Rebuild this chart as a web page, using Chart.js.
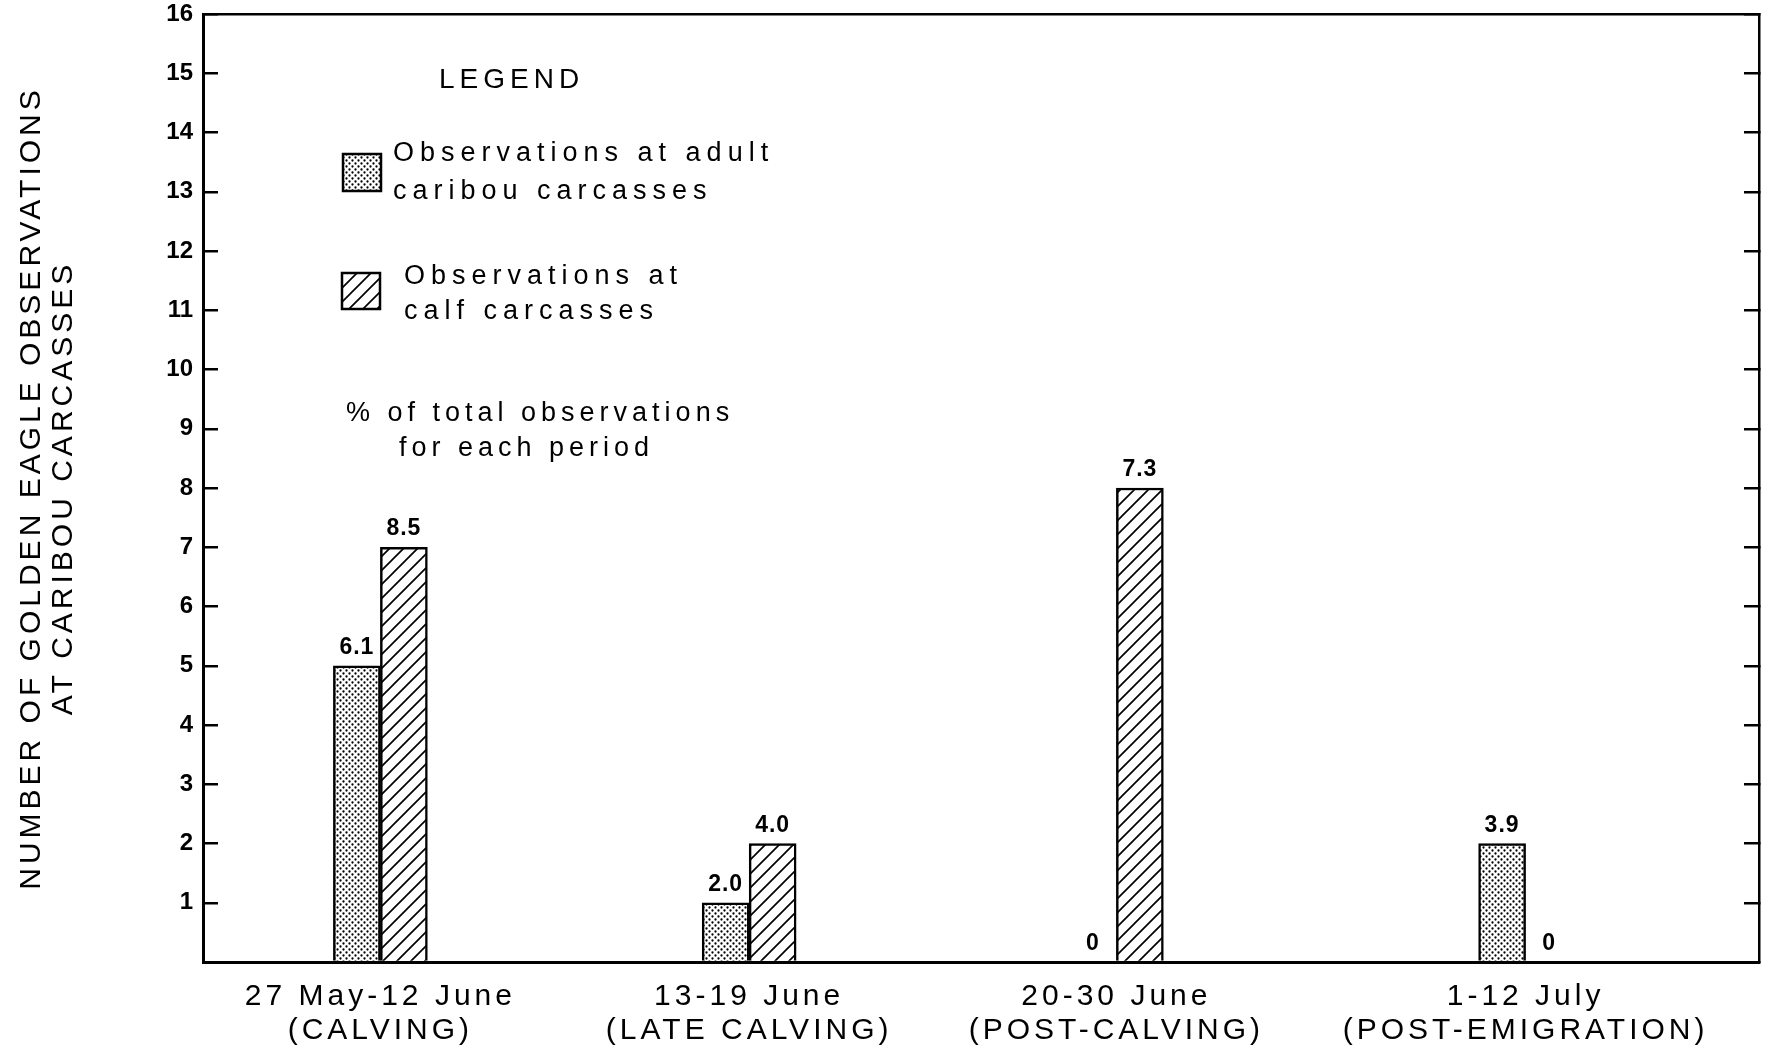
<!DOCTYPE html>
<html>
<head>
<meta charset="utf-8">
<title>Golden eagle observations at caribou carcasses</title>
<script src="https://cdn.jsdelivr.net/npm/chart.js@4.4.1/dist/chart.umd.min.js"></script>
<style>
  html, body { margin: 0; padding: 0; background: #fff; }
  #wrap { width: 1773px; height: 1054px; position: relative; }
</style>
</head>
<body>
<div id="wrap"><canvas id="chart"></canvas></div>
<script>
const periodLabels = [
  ["27 May-12 June", "(CALVING)"],
  ["13-19 June", "(LATE CALVING)"],
  ["20-30 June", "(POST-CALVING)"],
  ["1-12 July", "(POST-EMIGRATION)"],
];
// where each period sits along a 0-100 x axis (periods are not evenly spaced)
const periodX = [11.4, 35.1, 58.7, 85.0];
const adultObs = [5, 1, 0, 2];
const calfObs = [7, 2, 8, 0];
const adultPct = ["6.1", "2.0", "0", "3.9"];
const calfPct = ["8.5", "4.0", "7.3", "0"];
const adultName = ["Observations at adult", "caribou carcasses"];
const calfName = ["Observations at", "calf carcasses"];
const pctNote = ["% of total observations", "for each period"];
const yTitle = ["NUMBER OF GOLDEN EAGLE OBSERVATIONS", "AT CARIBOU CARCASSES"];
const yMax = 16;

const FAMILY = "'Liberation Sans', Arial, Helvetica, sans-serif";
Chart.defaults.font.family = FAMILY;
Chart.defaults.color = "#000";

function dotPattern() {
  const c = document.createElement("canvas");
  c.width = 6;
  c.height = 6;
  const g = c.getContext("2d");
  g.fillStyle = "#fff";
  g.fillRect(0, 0, 6, 6);
  g.fillStyle = "#000";
  [[1.5, 1.5], [4.5, 4.5]].forEach(([x, y]) => {
    g.beginPath();
    g.arc(x, y, 1.15, 0, Math.PI * 2);
    g.fill();
  });
  return g.createPattern(c, "repeat");
}

function hatchPattern() {
  const s = 14;
  const c = document.createElement("canvas");
  c.width = s;
  c.height = s;
  const g = c.getContext("2d");
  g.fillStyle = "#fff";
  g.fillRect(0, 0, s, s);
  g.strokeStyle = "#000";
  g.lineWidth = 1.7;
  g.beginPath();
  g.moveTo(-s / 2, s / 2); g.lineTo(s / 2, -s / 2);
  g.moveTo(0, s); g.lineTo(s, 0);
  g.moveTo(s / 2, s * 1.5); g.lineTo(s * 1.5, s / 2);
  g.stroke();
  return g.createPattern(c, "repeat");
}

const dots = dotPattern();
const hatch = hatchPattern();

// wide tracking like the typewritten original; y tick numbers stay tight
const LS = "4px";
const spacing = {
  id: "spacing",
  beforeLayout(chart) { chart.ctx.letterSpacing = LS; },
  afterLayout(chart) {
    const y = chart.scales.y;
    if (y && !y._plainLabels) {
      const draw = y.drawLabels;
      y.drawLabels = function (area) {
        const prev = this.ctx.letterSpacing;
        this.ctx.letterSpacing = "0px";
        draw.call(this, area);
        this.ctx.letterSpacing = prev;
      };
      y._plainLabels = true;
    }
  },
  beforeDraw(chart) { chart.ctx.letterSpacing = LS; },
};

const barValues = {
  id: "barValues",
  afterDatasetsDraw(chart) {
    const c = chart.ctx;
    c.save();
    c.letterSpacing = "1px";
    c.font = "bold 23px " + FAMILY;
    c.fillStyle = "#000";
    c.textAlign = "center";
    c.textBaseline = "alphabetic";
    [adultPct, calfPct].forEach((pcts, d) => {
      chart.getDatasetMeta(d).data.forEach((bar, i) => {
        c.fillText(pcts[i], bar.x, bar.y - 12);
      });
    });
    c.restore();
  },
};

function swatch(c, x, y, w, h, fill) {
  c.fillStyle = fill;
  c.fillRect(x, y, w, h);
  c.lineWidth = 2.5;
  c.strokeStyle = "#000";
  c.strokeRect(x, y, w, h);
}

const legendBox = {
  id: "legendBox",
  afterDraw(chart) {
    const c = chart.ctx;
    c.save();
    c.textAlign = "left";
    c.textBaseline = "middle";

    c.fillStyle = "#000";
    c.font = "28px " + FAMILY;
    c.letterSpacing = "5px";
    c.fillText("LEGEND", 439, 80);

    swatch(c, 343, 154, 38, 37, dots);
    swatch(c, 342, 273, 38, 36, hatch);

    c.fillStyle = "#000";
    c.font = "27px " + FAMILY;
    c.letterSpacing = "6px";
    c.fillText(adultName[0], 393, 154);
    c.fillText(adultName[1], 393, 192);
    c.fillText(calfName[0], 404, 277);
    c.fillText(calfName[1], 404, 312);

    c.letterSpacing = "5px";
    c.fillText(pctNote[0], 346, 414);
    c.fillText(pctNote[1], 399, 449);
    c.restore();
  },
};

const ctx = document.getElementById("chart").getContext("2d");
new Chart(ctx, {
  type: "bar",
  data: {
    datasets: [
      {
        label: adultName.join(" "),
        data: periodX.map((x, i) => ({ x, y: adultObs[i] })),
        backgroundColor: dots,
        borderColor: "#000",
        borderWidth: 2.5,
        barThickness: 47,
      },
      {
        label: calfName.join(" "),
        data: periodX.map((x, i) => ({ x, y: calfObs[i] })),
        backgroundColor: hatch,
        borderColor: "#000",
        borderWidth: 2.5,
        barThickness: 47,
      },
    ],
  },
  options: {
    animation: false,
    responsive: true,
    maintainAspectRatio: false,
    layout: { padding: 0 },
    plugins: {
      legend: { display: false },
      tooltip: { enabled: false },
    },
    scales: {
      x: {
        type: "linear",
        position: "bottom",
        min: 0,
        max: 100,
        offset: false,
        grid: { display: false, drawTicks: false, offset: false },
        border: { display: true, color: "#000", width: 3 },
        afterBuildTicks: (s) => {
          s.ticks = periodX.map((v) => ({ value: v }));
        },
        ticks: {
          callback: (v, i) => periodLabels[i],
          font: { size: 30, lineHeight: 1.13 },
          padding: 18,
          maxRotation: 0,
          autoSkip: false,
          color: "#000",
        },
        afterFit: (s) => {
          s.height = 92;
          s.paddingLeft = 0;
          s.paddingRight = 0;
        },
      },
      xTop: {
        type: "linear",
        position: "top",
        min: 0,
        max: 100,
        grid: { display: false, drawTicks: false },
        ticks: { display: false },
        border: { display: true, color: "#000", width: 2.5 },
        afterFit: (s) => { s.height = 14; },
      },
      y: {
        type: "linear",
        position: "left",
        min: 0,
        max: yMax,
        ticks: {
          stepSize: 1,
          callback: (v) => (v === 0 ? "" : v),
          font: { size: 24, weight: "bold" },
          padding: 25,
          color: "#000",
        },
        grid: { drawOnChartArea: false, drawTicks: true, tickLength: -15, color: "#000", lineWidth: 2.5 },
        border: { display: true, color: "#000", width: 3 },
        title: {
          display: true,
          text: yTitle,
          font: { size: 30, lineHeight: 1.05 },
          padding: { top: 16, bottom: 0 },
          color: "#000",
        },
        afterFit: (s) => {
          s.width = 203;
          s.paddingTop = 0;
          s.paddingBottom = 0;
        },
      },
      y2: {
        type: "linear",
        position: "right",
        min: 0,
        max: yMax,
        ticks: { display: false, stepSize: 1 },
        grid: { drawOnChartArea: false, drawTicks: true, tickLength: -15, color: "#000", lineWidth: 2.5 },
        border: { display: true, color: "#000", width: 2.5 },
        afterFit: (s) => {
          s.width = 14;
          s.paddingTop = 0;
          s.paddingBottom = 0;
        },
      },
    },
  },
  plugins: [spacing, barValues, legendBox],
});
</script>
</body>
</html>
